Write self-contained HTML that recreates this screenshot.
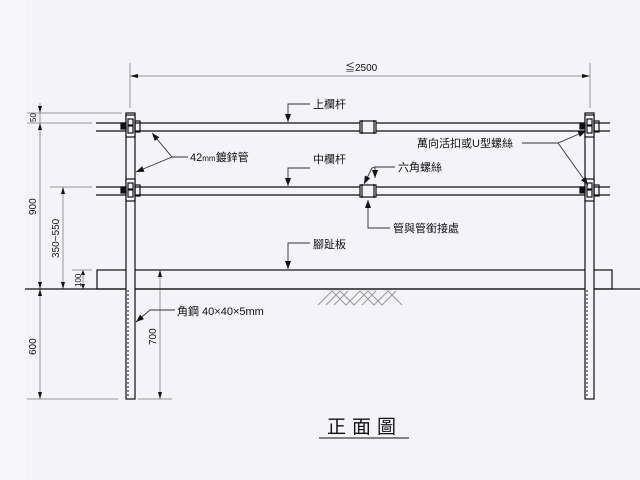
<!DOCTYPE html>
<html><head><meta charset="utf-8"><style>
html,body{margin:0;padding:0;background:#f3f3f9;}
svg{display:block;}
text{font-family:"Liberation Sans","Noto Sans CJK TC",sans-serif;fill:#111;}
</style></head><body>
<svg width="640" height="480" viewBox="0 0 640 480" xmlns="http://www.w3.org/2000/svg">
<rect x="0" y="0" width="25" height="480" fill="#f6f6fb"/>
<defs>
<marker id="a" markerWidth="8" markerHeight="6" refX="8" refY="3" orient="auto" markerUnits="userSpaceOnUse"><path d="M0,0 L8,3 L0,6z" fill="#111"/></marker>
</defs>
<g stroke="#999" stroke-width="1" fill="none">
<!-- top dim -->
<line x1="130" y1="63" x2="130" y2="108"/>
<line x1="590" y1="63" x2="590" y2="108"/>
<line x1="130" y1="76" x2="590" y2="76"/>
<!-- left dims -->
<line x1="40" y1="103" x2="40" y2="399"/>
<line x1="27" y1="113" x2="122" y2="113"/>
<line x1="27" y1="123" x2="92" y2="123"/>
<line x1="50" y1="187" x2="92" y2="187"/>
<line x1="63" y1="187" x2="63" y2="289"/>
<line x1="72" y1="270" x2="92" y2="270"/>
<line x1="83" y1="270" x2="83" y2="289"/>
<line x1="27" y1="399" x2="118" y2="399"/>
<line x1="160" y1="270" x2="160" y2="399"/>
<line x1="138" y1="399" x2="172" y2="399"/>
<!-- hatching -->
<path d="M318,305 L332,291 L346,305 L360,291 L374,305 L388,291 L402,305 M326,305 L340,291 L354,305 L368,291 L382,305 L396,291 M334,305 L348,291 M362,305 L376,291"/>
</g>
<g fill="#111">
<path d="M130,76 l8,-2 v4z M590,76 l-8,-2 v4z"/>
<path d="M40,113 l-2,-7 h4z M40,123 l-2,7 h4z M40,289 l-2,-7 h4z M40,289 l-2,7 h4z M40,399 l-2,-7 h4z"/>
<path d="M63,187 l-2,7 h4z M63,289 l-2,-7 h4z M83,270 l-2,5 h4z M83,289 l-2,-5 h4z M160,270 l-2,7 h4z M160,399 l-2,-7 h4z"/>
</g>
<g stroke="#111" stroke-width="1.2" fill="none">
<!-- rails -->
<line x1="96" y1="123" x2="610" y2="123"/><line x1="96" y1="131" x2="610" y2="131"/>
<line x1="96" y1="187" x2="610" y2="187"/><line x1="96" y1="195" x2="610" y2="195"/>
<!-- toe board & ground -->
<rect x="97" y="270" width="515" height="19"/>
<line x1="25" y1="289" x2="640" y2="289"/>
<!-- posts -->
<rect x="126" y="113" width="9" height="286" fill="#f3f3f9"/>
<rect x="585" y="113" width="9" height="286" fill="#f3f3f9"/>
<!-- clamps -->
<g id="c"><rect x="126" y="115" width="9" height="22" fill="#f3f3f9"/><rect x="128" y="119" width="5" height="6"/><rect x="128" y="126" width="5" height="7"/><rect x="121" y="123" width="5" height="6" fill="#111"/><rect x="135" y="121" width="5" height="11"/></g>
<use href="#c" y="64"/><use href="#c" x="459"/><use href="#c" x="459" y="64"/>
<!-- couplings -->
<rect x="360" y="121" width="16" height="12" fill="#f3f3f9"/><line x1="362" y1="120" x2="362" y2="134"/><line x1="374" y1="120" x2="374" y2="134"/>
<rect x="360" y="185" width="16" height="12" fill="#f3f3f9"/><line x1="362" y1="184" x2="362" y2="198"/><line x1="374" y1="184" x2="374" y2="198"/>
</g>
<g stroke="#111" stroke-width="1" stroke-dasharray="2,2"><line x1="128" y1="290" x2="128" y2="398"/><line x1="587" y1="290" x2="587" y2="398"/></g>
<!-- leaders -->
<g stroke="#333" stroke-width="0.9" fill="none" marker-end="url(#a)">
<polyline points="310,104 288,104 288,122"/>
<polyline points="310,168 288,168 288,186"/>
<polyline points="310,243 288,243 288,269"/>
<polyline points="188,157 172,157 152,133"/>
<polyline points="172,157 136,172"/>
<polyline points="522,143 558,143 586,131"/>
<polyline points="558,143 588,185"/>
<polyline points="395,167 375,167 375,178"/>
<polyline points="375,167 372,168 364,184"/>
<polyline points="390,228 368,228 368,200"/>
<polyline points="175,310 150,310 136,322"/>
</g>
<g font-size="11">
<text x="345" y="71" font-size="10">≦2500</text>
<text x="313" y="108">上欄杆</text>
<text x="313" y="163">中欄杆</text>
<text x="313" y="248">腳趾板</text>
<text x="190" y="161">42<tspan font-size="8">mm</tspan>鍍鋅管</text>
<text x="417" y="147">萬向活扣或U型螺絲</text>
<text x="398" y="171">六角螺絲</text>
<text x="393" y="232">管與管銜接處</text>
<text x="177" y="315">角鋼 40×40×5mm</text>
</g>
<g font-size="10">
<text transform="translate(36,122) rotate(-90)" font-size="8">50</text>
<text transform="translate(36,215) rotate(-90)">900</text>
<text transform="translate(59,258) rotate(-90)">350~550</text>
<text transform="translate(81,287) rotate(-90)" font-size="8">100</text>
<text transform="translate(36,355) rotate(-90)">600</text>
<text transform="translate(156,345) rotate(-90)">700</text>
</g>
<text x="327" y="433" font-size="19" letter-spacing="6">正面圖</text>
<line x1="319" y1="438" x2="409" y2="438" stroke="#111" stroke-width="1"/>
</svg>
</body></html>
